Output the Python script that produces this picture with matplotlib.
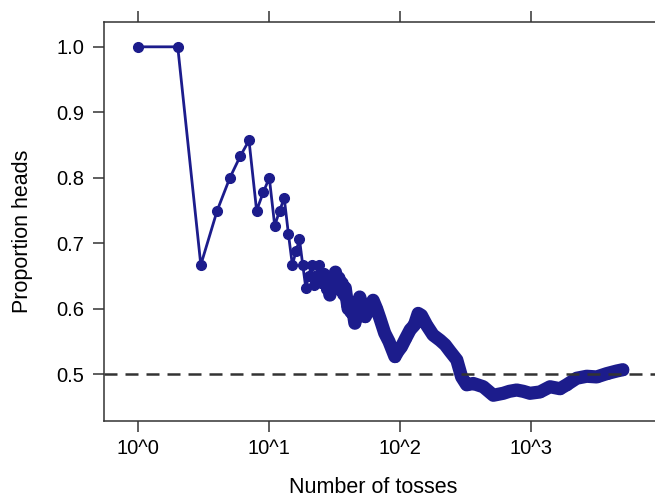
import matplotlib
matplotlib.use("Agg")
import matplotlib.pyplot as plt
import numpy as np

plt.rcParams['font.family'] = ['Liberation Sans', 'DejaVu Sans']

# proporcion de caras, primeros lanzamientos (n = 1..45)
prop_inicio = [1.0, 1.0, 0.667, 0.75, 0.8, 0.833, 0.857, 0.75, 0.778, 0.8,
               0.727, 0.75, 0.769, 0.714, 0.667, 0.688, 0.706, 0.667, 0.632, 0.65,
               0.667, 0.636, 0.652, 0.667, 0.64, 0.654, 0.63, 0.643, 0.621, 0.633,
               0.645, 0.656, 0.636, 0.647, 0.629, 0.639, 0.622, 0.632, 0.615, 0.6,
               0.61, 0.595, 0.605, 0.591, 0.578]
n_inicio = list(range(1, len(prop_inicio) + 1))

# lecturas del resto de la serie
n_resto = [49, 54, 58, 62, 66, 70, 76, 82, 91, 96, 102, 110, 119, 128, 137, 145,
           159, 178, 201, 220, 240, 270, 294, 321, 361, 430, 513, 611, 680, 774,
           870, 977, 1165, 1390, 1656, 1863, 2221, 2650, 3157, 3764, 4486, 5000]
prop_resto = [0.618, 0.588, 0.60, 0.613, 0.60, 0.585, 0.563, 0.55, 0.527, 0.535,
              0.542, 0.555, 0.568, 0.575, 0.593, 0.590, 0.575, 0.560, 0.552, 0.545,
              0.535, 0.522, 0.496, 0.484, 0.486, 0.481, 0.468, 0.471, 0.474, 0.476,
              0.474, 0.471, 0.473, 0.481, 0.478, 0.484, 0.494, 0.497, 0.496, 0.501,
              0.505, 0.507]

tick_x = [1, 10, 100, 1000]
tick_x_labels = ["10^0", "10^1", "10^2", "10^3"]
tick_y = [0.5, 0.6, 0.7, 0.8, 0.9, 1.0]

azul = "#1c1c8c"
gris = "#333333"

n_todo = np.array(n_inicio + n_resto)
p_todo = np.array(prop_inicio + prop_resto)

fig = plt.figure(figsize=(6.55, 4.99), dpi=100)
ax = fig.add_axes([104/655, 78/499, 553/655, 399/499])

ax.axhline(0.5, color=gris, lw=1.8, ls=(0, (5.2, 3.2)), zorder=3)

ax.plot(n_todo, p_todo, color=azul, lw=2.0, marker='o', ms=7, zorder=2)
densos = n_todo >= 28
ax.plot(n_todo[densos], p_todo[densos], color=azul, lw=9.5,
        solid_capstyle='round', solid_joinstyle='round', zorder=2)

ax.set_xscale('log')
ax.set_xlim(10**-0.262, 10**3.96)
ax.set_ylim(0.4287, 1.0379)

ax.set_xticks(tick_x)
ax.set_xticklabels(tick_x_labels)
ax.xaxis.set_minor_locator(matplotlib.ticker.NullLocator())
ax.set_yticks(tick_y)
ax.set_yticklabels([f"{v:.1f}" for v in tick_y])

ax.tick_params(axis='x', which='major', direction='out', length=8, width=1.1,
               color=gris, labelsize=14.5, pad=5, top=True, labeltop=False)
ax.tick_params(axis='y', which='major', direction='out', length=8, width=1.1,
               color=gris, labelsize=14.5, pad=6, right=False)

for s in ax.spines.values():
    s.set_color(gris)
    s.set_linewidth(1.1)

ax.set_xlabel("Number of tosses", fontsize=15.5)
ax.set_ylabel("Proportion heads", fontsize=15.5)
ax.xaxis.set_label_coords(0.486, -0.140)
ax.yaxis.set_label_coords(-0.128, 0.476)

fig.savefig("out.png", dpi=100)
